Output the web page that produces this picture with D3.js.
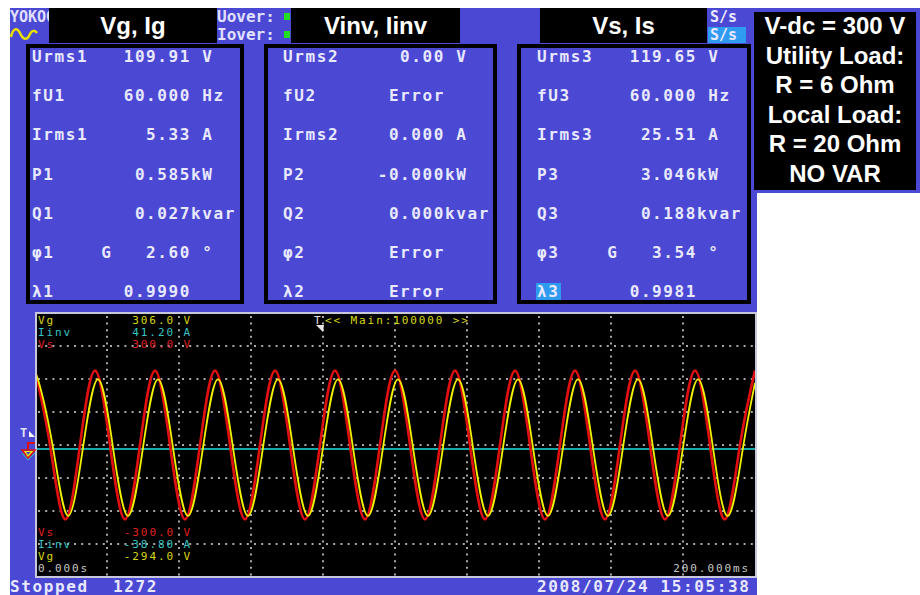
<!DOCTYPE html>
<html>
<head>
<meta charset="utf-8">
<script src="https://cdn.jsdelivr.net/npm/d3@7"></script>
<style>
  body { margin: 0; background: #fff; }
  svg { display: block; }
  .mono { font-family: "DejaVu Sans Mono", monospace; white-space: pre; }
  .meter { font-size: 16px; font-weight: bold; letter-spacing: 1.6px; fill: #e8e8ff; }
  .scope { font-size: 11px; letter-spacing: 1.9px; }
  .title { font-family: "Liberation Sans", Arial, sans-serif; font-weight: bold; fill: #fff; }
</style>
</head>
<body>
<svg width="920" height="595"></svg>
<script>
// ---- meter readings (three elements) ----
const panelTitles = ["Vg, Ig", "Vinv, Iinv", "Vs, Is"];
const ch1Labels = ["Urms1", "fU1", "Irms1", "P1", "Q1", "\u03c61", "\u03bb1"];
const ch1Values = ["  109.91 V", "  60.000 Hz", "    5.33 A", "   0.585kW", "   0.027kvar", "G   2.60 \u00b0", "  0.9990"];
const ch2Labels = ["Urms2", "fU2", "Irms2", "P2", "Q2", "\u03c62", "\u03bb2"];
const ch2Values = ["    0.00 V", "   Error", "   0.000 A", "  -0.000kW", "   0.000kvar", "   Error", "   Error"];
const ch3Labels = ["Urms3", "fU3", "Irms3", "P3", "Q3", "\u03c63", "\u03bb3"];
const ch3Values = ["  119.65 V", "  60.000 Hz", "   25.51 A", "   3.046kW", "   0.188kvar", "G   3.54 \u00b0", "  0.9981"];

const notes = ["V-dc = 300 V", "Utility Load:", "R = 6 Ohm", "Local Load:", "R = 20 Ohm", "NO VAR"];

// ---- scope traces ----
const traceNames = ["Vg", "Iinv", "Vs"];
const traceTop = [306.0, 41.20, 300.0];
const traceBottom = [-294.0, -38.80, -300.0];
const traceUnits = ["V", "A", "V"];
const traceFormats = [".1f", ".2f", ".1f"];
const timeSpan = [0, 200]; // ms
const timeLabels = ["0.000s", "200.000ms"];
const triggerText = "<< Main:100000 >>";

// Vs samples (ms, V) read at peaks / zero crossings
const timeVs = [0, 4.17, 8.33, 12.5, 16.67, 20.83, 25, 29.17, 33.33, 37.5, 41.67, 45.83,
  50, 54.17, 58.33, 62.5, 66.67, 70.83, 75, 79.17, 83.33, 87.5, 91.67, 95.83,
  100, 104.17, 108.33, 112.5, 116.67, 120.83, 125, 129.17, 133.33, 137.5, 141.67, 145.83,
  150, 154.17, 158.33, 162.5, 166.67, 170.83, 175, 179.17, 183.33, 187.5, 191.67, 195.83, 200];
const vsVolts = [169, 0, -169, 0, 169, 0, -169, 0, 169, 0, -169, 0,
  169, 0, -169, 0, 169, 0, -169, 0, 169, 0, -169, 0,
  169, 0, -169, 0, 169, 0, -169, 0, 169, 0, -169, 0,
  169, 0, -169, 0, 169, 0, -169, 0, 169, 0, -169, 0, 169];
// Vg samples, lagging Vs a little
const timeVg = [0, 0.83, 5, 9.17, 13.33, 17.5, 21.67, 25.83, 30, 34.17, 38.33, 42.5, 46.67,
  50.83, 55, 59.17, 63.33, 67.5, 71.67, 75.83, 80, 84.17, 88.33, 92.5, 96.67,
  100.83, 105, 109.17, 113.33, 117.5, 121.67, 125.83, 130, 134.17, 138.33, 142.5, 146.67,
  150.83, 155, 159.17, 163.33, 167.5, 171.67, 175.83, 180, 184.17, 188.33, 192.5, 196.67, 200];
const vgVolts = [150, 155, 0, -155, 0, 155, 0, -155, 0, 155, 0, -155, 0,
  155, 0, -155, 0, 155, 0, -155, 0, 155, 0, -155, 0,
  155, 0, -155, 0, 155, 0, -155, 0, 155, 0, -155, 0,
  155, 0, -155, 0, 155, 0, -155, 0, 155, 0, -155, 0, 147];
const timeIinv = [0, 200];
const iinvAmps = [0, 0];

const blue = "#4b48d3";
const svg = d3.select("svg");

// background panels
svg.append("rect").attr("x", 10).attr("y", 8).attr("width", 747).attr("height", 587).attr("fill", blue);
svg.append("rect").attr("x", 750).attr("y", 8).attr("width", 170).attr("height", 185).attr("fill", blue);
svg.append("rect").attr("x", 754).attr("y", 12).attr("width", 162).attr("height", 178).attr("fill", "#000");

// header strip
svg.append("text").attr("class", "mono").attr("x", 10).attr("y", 22)
  .style("font-size", "15px").style("font-weight", "bold").attr("fill", "#e0e0ff").text("YOKOGAWA");
svg.append("path").attr("d", "M11,37 C13,28 17,27 20,33 C23,40 27,41 30,34 C32,30 35,30 37,33")
  .attr("fill", "none").attr("stroke", "#e8e000").attr("stroke-width", 2.5);
["Uover:", "Iover:"].forEach((t, i) => {
  svg.append("text").attr("class", "mono").attr("x", 217).attr("y", 22 + i * 18)
    .style("font-size", "16px").style("font-weight", "bold").attr("fill", "#e0e0ff").text(t);
  svg.append("rect").attr("x", 284).attr("y", 13 + i * 18).attr("width", 6).attr("height", 7).attr("fill", "#22dd22");
});
svg.append("rect").attr("x", 708).attr("y", 27).attr("width", 38).attr("height", 16).attr("fill", "#2f9bf0");
[0, 1].forEach(i => {
  svg.append("text").attr("class", "mono").attr("x", 710).attr("y", 22 + i * 18)
    .style("font-size", "15px").style("font-weight", "bold").attr("fill", "#e8e8ff").text("S/s");
});

const titleBoxes = [[49, 168], [291, 169], [540, 167]];
titleBoxes.forEach((b, i) => {
  svg.append("rect").attr("x", b[0]).attr("y", 8).attr("width", b[1]).attr("height", 35).attr("fill", "#000");
  svg.append("text").attr("class", "title").attr("x", b[0] + b[1] / 2).attr("y", 34)
    .attr("text-anchor", "middle").style("font-size", "24px").text(panelTitles[i]);
});

// meter panels
const rowY = d3.scaleLinear().domain([0, 6]).range([62, 297]);
const cell = 11.2;
const panels = [
  { box: 28, w: 214, labelX: 32, origin: 34, labels: ch1Labels, values: ch1Values },
  { box: 266, w: 229, labelX: 283, origin: 288, labels: ch2Labels, values: ch2Values },
  { box: 519, w: 230, labelX: 537, origin: 540, labels: ch3Labels, values: ch3Values }
];
svg.append("rect").attr("x", 536).attr("y", 283).attr("width", 25).attr("height", 17).attr("fill", "#2f9bf0");
panels.forEach(p => {
  svg.append("rect").attr("x", p.box).attr("y", 46).attr("width", p.w).attr("height", 256)
    .attr("fill", "none").attr("stroke", "#000").attr("stroke-width", 4);
  const g = svg.append("g");
  g.selectAll(".lab").data(p.labels).join("text").attr("class", "mono meter lab")
    .attr("x", p.labelX).attr("y", (d, i) => rowY(i)).text(d => d);
  g.selectAll(".val").data(p.values).join("text").attr("class", "mono meter val")
    .attr("x", p.origin + 6 * cell).attr("y", (d, i) => rowY(i)).text(d => d);
});

// notes box
const noteY = d3.scaleLinear().domain([0, notes.length - 1]).range([34, 182]);
svg.append("g").selectAll("text").data(notes).join("text").attr("class", "title")
  .attr("x", 835).attr("y", (d, i) => noteY(i)).attr("text-anchor", "middle")
  .style("font-size", "24px").text(d => d);

// ---- scope ----
const x = d3.scaleLinear().domain(timeSpan).range([35, 755]);
const yScales = traceNames.map((n, i) => d3.scaleLinear().domain([traceBottom[i], traceTop[i]]).range([577, 313]));
const traceColors = ["#f2f200", "#14a8a8", "#e01010"];
const textColors = ["#d8d818", "#38c4c4", "#e02020"];

svg.append("rect").attr("x", 36).attr("y", 313).attr("width", 720).attr("height", 264)
  .attr("fill", "#000").attr("stroke", "#c8c8dc").attr("stroke-width", 2);
svg.append("clipPath").attr("id", "scopeClip").append("rect")
  .attr("x", 37).attr("y", 314).attr("width", 718).attr("height", 262);

const grid = svg.append("g").attr("stroke", "#a8a8a8").attr("stroke-width", 2);
grid.selectAll(".vg").data(x.ticks(10).slice(1, -1)).join("line")
  .attr("x1", d => x(d)).attr("x2", d => x(d)).attr("y1", 316).attr("y2", 577)
  .attr("stroke-dasharray", "2 4.6");
grid.selectAll(".hg").data(d3.range(-225, 226, 75)).join("line")
  .attr("x1", 38).attr("x2", 755).attr("y1", d => yScales[2](d)).attr("y2", d => yScales[2](d))
  .attr("stroke-dasharray", "2 5.2");

const traces = svg.append("g").attr("clip-path", "url(#scopeClip)").attr("fill", "none");
const lineFor = (ys) => d3.line().x(d => x(d[0])).y(d => ys(d[1])).curve(d3.curveNatural);
traces.append("path").datum(d3.zip(timeIinv, iinvAmps)).attr("d", lineFor(yScales[1]))
  .attr("stroke", traceColors[1]).attr("stroke-width", 2);
traces.append("path").datum(d3.zip(timeVs, vsVolts)).attr("d", lineFor(yScales[2]))
  .attr("stroke", traceColors[2]).attr("stroke-width", 2.6);
traces.append("path").datum(d3.zip(timeVg, vgVolts)).attr("d", lineFor(yScales[0]))
  .attr("stroke", traceColors[0]).attr("stroke-width", 1.8);

// scale readouts
const fmt = (i, v) => d3.format(traceFormats[i])(v).replace("\u2212", "-") + " " + traceUnits[i];
const readouts = svg.append("g").attr("class", "mono scope");
[0, 1, 2].forEach((c, k) => {
  readouts.append("text").attr("x", 38).attr("y", 324 + k * 12).attr("fill", textColors[c]).text(traceNames[c]);
  readouts.append("text").attr("x", 192).attr("y", 324 + k * 12).attr("text-anchor", "end").attr("fill", textColors[c]).text(fmt(c, traceTop[c]));
});
[2, 1, 0].forEach((c, k) => {
  readouts.append("text").attr("x", 38).attr("y", 536 + k * 12).attr("fill", textColors[c]).text(traceNames[c]);
  readouts.append("text").attr("x", 192).attr("y", 536 + k * 12).attr("text-anchor", "end").attr("fill", textColors[c]).text(fmt(c, traceBottom[c]));
});
readouts.append("text").attr("x", 38).attr("y", 572).attr("fill", "#c8c8c8").text(timeLabels[0]);
readouts.append("text").attr("x", 750).attr("y", 572).attr("text-anchor", "end").attr("fill", "#c8c8c8").text(timeLabels[1]);
readouts.append("text").attr("x", 325).attr("y", 324).attr("fill", "#d8d818").text(triggerText);
readouts.append("text").attr("x", 314).attr("y", 324).attr("fill", "#e0e0e0").text("T");
svg.append("path").attr("d", "M316,325 L324,325 L323,332 Z").attr("fill", "#e8e8e8");

// trigger / ground markers on the left edge
svg.append("text").attr("class", "mono").attr("x", 20).attr("y", 437).style("font-size", "12px")
  .style("font-weight", "bold").attr("fill", "#e0e0ff").text("T");
svg.append("path").attr("d", "M29,431 L29,437 L35,437 Z").attr("fill", "#ffffff");
svg.append("path").attr("d", "M28,449 L28,443 L35,443").attr("fill", "none").attr("stroke", "#e01010").attr("stroke-width", 2);
svg.append("path").attr("d", "M22,450 L35,450 L28,458 Z").attr("fill", "none").attr("stroke", "#e01010").attr("stroke-width", 1.5);
svg.append("path").attr("d", "M25,451.5 L32,451.5 L28,456 Z").attr("fill", "none").attr("stroke", "#f0f000").attr("stroke-width", 1.2);
svg.append("path").attr("d", "M22,453 L28,460 L35,453").attr("fill", "none").attr("stroke", "#30c8c8").attr("stroke-width", 1);

// status bar
const status = svg.append("g").attr("class", "mono meter");
status.append("text").attr("x", 10).attr("y", 592).text("Stopped");
status.append("text").attr("x", 113).attr("y", 592).text("1272");
status.append("text").attr("x", 537).attr("y", 592).text("2008/07/24 15:05:38");
</script>
</body>
</html>
